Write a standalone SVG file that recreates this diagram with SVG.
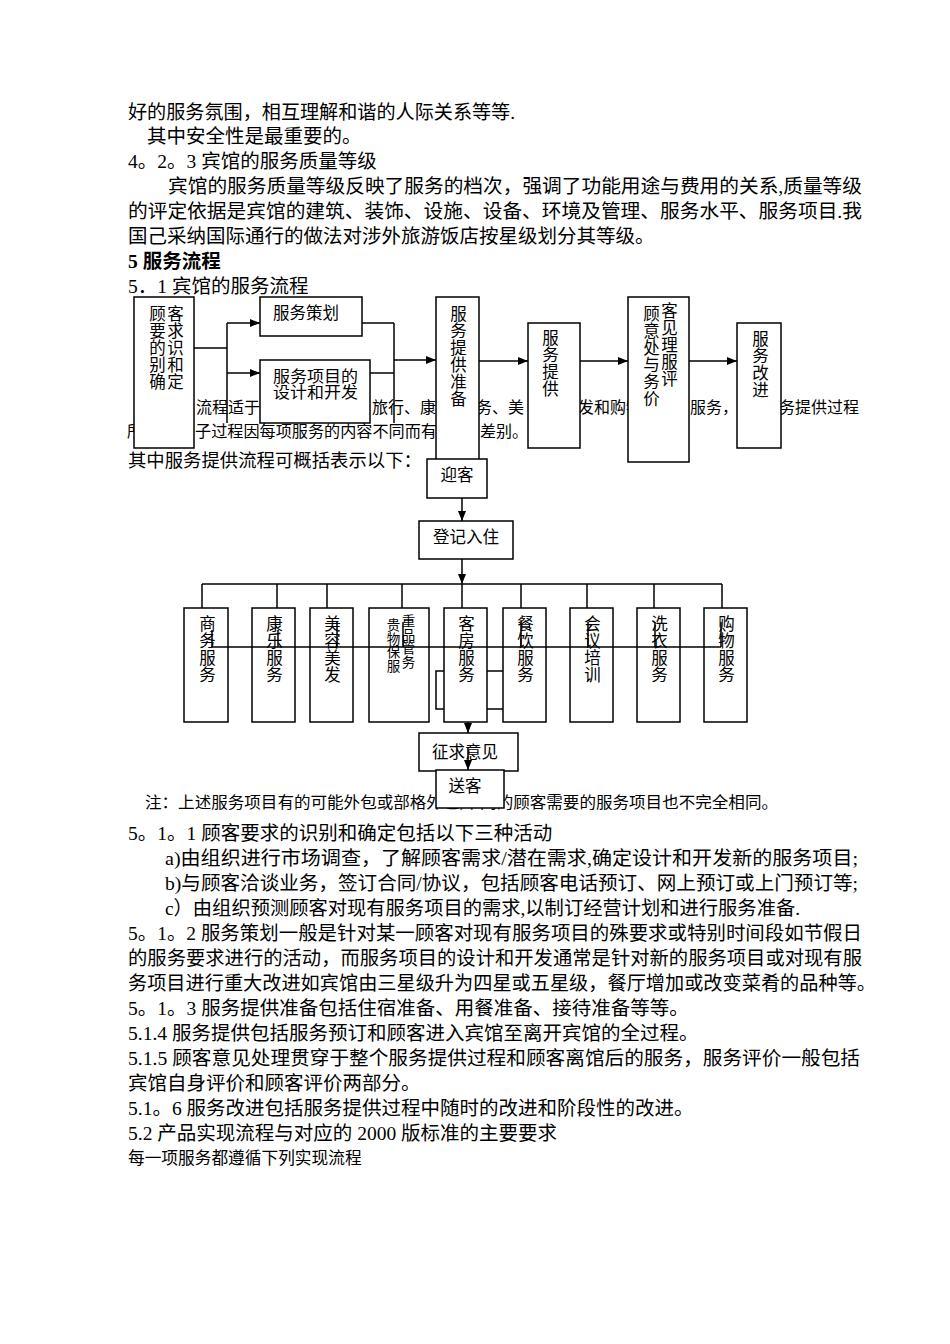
<svg xmlns="http://www.w3.org/2000/svg" width="950" height="1344" viewBox="0 0 950 1344">
<style>
.t{font-family:"Liberation Serif","Noto Sans CJK SC",serif;font-size:19.5px;fill:#000}
.f{font-family:"Liberation Serif","Noto Sans CJK SC",serif;font-size:16px;fill:#000}
.b{font-family:"Liberation Serif","Noto Sans CJK SC",serif;font-size:16.5px;fill:#000}
.m{text-anchor:middle}
.v{writing-mode:vertical-rl;text-orientation:upright;letter-spacing:0.6px}
.sm{font-family:"Liberation Serif","Noto Sans CJK SC",serif;font-size:13.5px;fill:#000;writing-mode:vertical-rl;text-orientation:upright;letter-spacing:0.2px}
.box{fill:#fff;stroke:#000;stroke-width:1.5}
.ln{stroke:#000;stroke-width:1.5;fill:none}
.ar{stroke:#000;stroke-width:1.5;fill:none;marker-end:url(#ah)}
</style>
<defs>
<marker id="ah" viewBox="0 0 10 8" refX="10" refY="4" markerWidth="10" markerHeight="8" markerUnits="userSpaceOnUse" orient="auto">
<path d="M0,0 L10,4 L0,8 z" fill="#000"/>
</marker>
</defs>
<rect width="950" height="1344" fill="#fff"/>

<g id="body-text">
<text class="t" x="128" y="119" textLength="387" lengthAdjust="spacingAndGlyphs">好的服务氛围，相互理解和谐的人际关系等等.</text>
<text class="t" x="147" y="143">其中安全性是最重要的。</text>
<text class="t" x="128" y="168">4。2。3 宾馆的服务质量等级</text>
<text class="t" x="168" y="193" textLength="694" lengthAdjust="spacingAndGlyphs">宾馆的服务质量等级反映了服务的档次，强调了功能用途与费用的关系,质量等级</text>
<text class="t" x="128" y="218" textLength="734" lengthAdjust="spacingAndGlyphs">的评定依据是宾馆的建筑、装饰、设施、设备、环境及管理、服务水平、服务项目.我</text>
<text class="t" x="128" y="243">国己采纳国际通行的做法对涉外旅游饭店按星级划分其等级。</text>
<text class="t" x="128" y="268" font-weight="700">5 服务流程</text>
<text class="t" x="128" y="293">5．1 宾馆的服务流程</text>

<text class="f" x="196" y="413">流程适于</text>
<text class="f" x="372" y="413">旅行、康</text>
<text class="f" x="476" y="413">务、美</text>
<text class="f" x="578" y="413">发和购物</text>
<text class="f" x="690" y="413">服务，</text>
<text class="f" x="779" y="413" textLength="80" lengthAdjust="spacingAndGlyphs">务提供过程</text>
<text class="f" x="127" y="437">所</text>
<text class="f" x="195" y="437" textLength="242" lengthAdjust="spacingAndGlyphs">子过程因每项服务的内容不同而有</text>
<text class="f" x="480" y="437">差别。</text>
<text class="t" x="128" y="467" textLength="294" lengthAdjust="spacingAndGlyphs" style="font-size:18.5px">其中服务提供流程可概括表示以下：</text>

<text class="f" x="145" y="808" textLength="633" lengthAdjust="spacingAndGlyphs">注：上述服务项目有的可能外包或部格外包,不同的顾客需要的服务项目也不完全相同。</text>
<text class="t" x="128" y="840">5。1。1 顾客要求的识别和确定包括以下三种活动</text>
<text class="t" x="165" y="865" textLength="693" lengthAdjust="spacingAndGlyphs">a)由组织进行市场调查，了解顾客需求/潜在需求,确定设计和开发新的服务项目;</text>
<text class="t" x="165" y="890" textLength="693" lengthAdjust="spacingAndGlyphs">b)与顾客洽谈业务，签订合同/协议，包括顾客电话预订、网上预订或上门预订等;</text>
<text class="t" x="165" y="915" textLength="635" lengthAdjust="spacingAndGlyphs">c）由组织预测顾客对现有服务项目的需求,以制订经营计划和进行服务准备.</text>
<text class="t" x="128" y="940" textLength="734" lengthAdjust="spacingAndGlyphs">5。1。2 服务策划一般是针对某一顾客对现有服务项目的殊要求或特别时间段如节假日</text>
<text class="t" x="128" y="965" textLength="734" lengthAdjust="spacingAndGlyphs">的服务要求进行的活动，而服务项目的设计和开发通常是针对新的服务项目或对现有服</text>
<text class="t" x="128" y="990" textLength="748" lengthAdjust="spacingAndGlyphs">务项目进行重大改进如宾馆由三星级升为四星或五星级，餐厅增加或改变菜肴的品种等。</text>
<text class="t" x="128" y="1015">5。1。3 服务提供准备包括住宿准备、用餐准备、接待准备等等。</text>
<text class="t" x="128" y="1040">5.1.4 服务提供包括服务预订和顾客进入宾馆至离开宾馆的全过程。</text>
<text class="t" x="128" y="1065" textLength="732" lengthAdjust="spacingAndGlyphs">5.1.5 顾客意见处理贯穿于整个服务提供过程和顾客离馆后的服务，服务评价一般包括</text>
<text class="t" x="128" y="1090">宾馆自身评价和顾客评价两部分。</text>
<text class="t" x="128" y="1115">5.1。6 服务改进包括服务提供过程中随时的改进和阶段性的改进。</text>
<text class="t" x="128" y="1140">5.2 产品实现流程与对应的 2000 版标准的主要要求</text>
<text class="t" x="128" y="1164" style="font-size:16.7px">每一项服务都遵循下列实现流程</text>
</g>

<g id="n-identify">
<rect class="box" x="134" y="297" width="60" height="151"/>
<text class="b v" x="156" y="305">顾要的别确</text>
<text class="b v" x="174" y="305">客求识和定</text>
</g>
<g id="n-plan">
<rect class="box" x="260" y="297" width="102" height="39"/>
<text class="b" x="273" y="319">服务策划</text>
</g>
<g id="n-design">
<rect class="box" x="260" y="360" width="110" height="63"/>
<text class="b" x="273" y="382" style="font-size:15.5px" textLength="85" lengthAdjust="spacingAndGlyphs">服务项目的</text>
<text class="b" x="273" y="398" style="font-size:15.5px" textLength="85" lengthAdjust="spacingAndGlyphs">设计和开发</text>
</g>
<g id="n-prepare">
<rect class="box" x="436" y="297" width="43" height="165"/>
<text class="b v" x="457" y="305">服务提供准备</text>
</g>
<g id="n-provide">
<rect class="box" x="528" y="323" width="52" height="125"/>
<text class="b v" x="549" y="329">服务提供</text>
</g>
<g id="n-feedback">
<rect class="box" x="628" y="297" width="61" height="165"/>
<text class="b v" x="650" y="305">顾意处与务价</text>
<text class="b v" x="668" y="302">客见理服评</text>
</g>
<g id="n-improve">
<rect class="box" x="737" y="323" width="44" height="125"/>
<text class="b v" x="759" y="330">服务改进</text>
</g>

<g id="n-welcome">
<rect class="box" x="427" y="459" width="60" height="39"/>
<text class="b m" x="457" y="481">迎客</text>
</g>
<g id="n-checkin">
<rect class="box" x="419" y="521" width="94" height="38"/>
<text class="b m" x="466" y="543">登记入住</text>
</g>

<g id="n-behind-room">
<rect class="box" x="436" y="671" width="68" height="38"/>
</g>
<g id="n-business">
<rect class="box" x="184" y="608" width="44" height="114"/>
<text class="b v" x="206" y="615">商务服务</text>
</g>
<g id="n-leisure">
<rect class="box" x="252" y="608" width="43" height="114"/>
<text class="b v" x="273" y="615">康乐服务</text>
</g>
<g id="n-beauty">
<rect class="box" x="310" y="608" width="43" height="114"/>
<text class="b v" x="331" y="615">美容美发</text>
</g>
<g id="n-valuables">
<rect class="box" x="369" y="608" width="60" height="114"/>
<text class="sm" x="392" y="618">贵物保服</text>
<text class="sm" x="407" y="614">重品管务</text>
</g>
<g id="n-room">
<rect class="box" x="444" y="608" width="43" height="114"/>
<text class="b v" x="465" y="615">客房服务</text>
</g>
<g id="n-dining">
<rect class="box" x="503" y="608" width="43" height="114"/>
<text class="b v" x="524" y="615">餐饮服务</text>
</g>
<g id="n-meeting">
<rect class="box" x="570" y="608" width="43" height="114"/>
<text class="b v" x="591" y="615">会议培训</text>
</g>
<g id="n-laundry">
<rect class="box" x="637" y="608" width="43" height="114"/>
<text class="b v" x="658" y="615">洗衣服务</text>
</g>
<g id="n-shopping">
<rect class="box" x="704" y="608" width="43" height="114"/>
<text class="b v" x="725" y="615">购物服务</text>
</g>
<g id="n-opinion">
<rect class="box" x="419" y="733" width="99" height="38"/>
<text class="b m" x="465" y="758">征求意见</text>
</g>

<g id="connectors">
<line class="ln" x1="194" y1="348" x2="227" y2="348"/>
<line class="ln" x1="227" y1="323" x2="227" y2="423"/>
<line class="ar" x1="227" y1="323" x2="260" y2="323"/>
<line class="ar" x1="227" y1="373" x2="260" y2="373"/>
<line class="ln" x1="362" y1="323" x2="394" y2="323"/>
<line class="ln" x1="370" y1="373" x2="394" y2="373"/>
<line class="ln" x1="394" y1="323" x2="394" y2="423"/>
<line class="ar" x1="394" y1="360" x2="436" y2="360"/>
<line class="ar" x1="479" y1="361" x2="528" y2="361"/>
<line class="ar" x1="580" y1="361" x2="628" y2="361"/>
<line class="ar" x1="689" y1="361" x2="737" y2="361"/>

<line class="ar" x1="462" y1="498" x2="462" y2="521"/>
<line class="ar" x1="462" y1="559" x2="462" y2="584"/>
<line class="ln" x1="202" y1="584" x2="722" y2="584"/>
<path class="ln" d="M202,584V608M277,584V608M327,584V608M402,584V608M462,584V608M521,584V608M587,584V608M654,584V608M722,584V608"/>
<line class="ln" x1="212" y1="647" x2="721" y2="647"/>
<path class="ln" d="M212,630V647M278,630V647M337,622V647M403,622V647M521,622V647M588,622V647M655,622V647M721,622V647"/>
<line class="ar" x1="468" y1="722" x2="468" y2="733"/>
<line class="ar" x1="468" y1="748" x2="468" y2="770"/>
</g>

<g id="n-farewell">
<rect class="box" x="436" y="770" width="68" height="38"/>
<text class="b m" x="465" y="792">送客</text>
</g>
</svg>
